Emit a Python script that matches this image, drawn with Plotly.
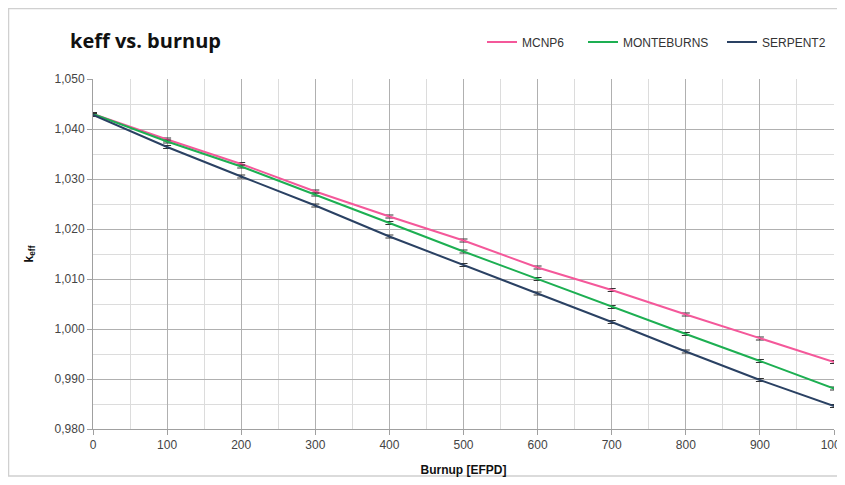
import plotly.graph_objects as go

burnup = [0, 100, 200, 300, 400, 500, 600, 700, 800, 900, 1000]
mcnp6 = [1.0430, 1.0379, 1.0330, 1.0275, 1.0225, 1.0177, 1.0123, 1.0078, 1.0029, 0.9981, 0.9934]
monteburns = [1.0430, 1.0375, 1.0325, 1.0269, 1.0212, 1.0155, 1.0100, 1.0044, 0.9990, 0.9936, 0.9881]
serpent2 = [1.0428, 1.0364, 1.0305, 1.0247, 1.0185, 1.0128, 1.0071, 1.0014, 0.9955, 0.9898, 0.9846]
err = [0.0003] * 11

series = [
    ("MCNP6", mcnp6, "#F4589A", "legend"),
    ("MONTEBURNS", monteburns, "#1DAF52", "legend2"),
    ("SERPENT2", serpent2, "#2A4163", "legend3"),
]

fig = go.Figure()
for name, vals, col, lg in series:
    fig.add_trace(go.Scatter(
        x=burnup, y=vals, name=name, mode="lines",
        line=dict(color=col, width=2),
        error_y=dict(type="data", array=err, visible=True, color="#333333", thickness=1, width=4),
        legend=lg, showlegend=True,
    ))

# page body has an 8px margin, so the figure is 16px smaller than the window
OFF = 8
W, H = 845 - 2 * OFF, 485 - 2 * OFF
L, T = 93 - OFF, 79 - OFF
R = W - (834 - OFF)
B = H - (429 - OFF)
pw, ph = W - L - R, H - T - B

def px(x):  # screen x -> paper
    return (x - OFF - L) / pw

def py(y):  # screen y -> paper
    return (H - B - (y - OFF)) / ph

legfont = dict(family="Liberation Sans, Arial", size=12, color="#333333")
leg_common = dict(orientation="h", xanchor="left", yanchor="middle", font=legfont,
                  bgcolor="rgba(0,0,0,0)", itemwidth=30)

fig.update_layout(
    width=W, height=H,
    margin=dict(l=L, r=R, t=T, b=B, autoexpand=False),
    paper_bgcolor="white", plot_bgcolor="white",
    showlegend=True,
    separators=", ",
    font=dict(family="Liberation Sans, Arial", size=12, color="#595959"),
    title=dict(text="<b>keff vs. burnup</b>", x=(70 - OFF) / W, xref="container", xanchor="left",
               y=1 - (41 - OFF) / H, yref="container", yanchor="middle",
               font=dict(size=20, color="#111111", family="Open Sans, Liberation Sans")),
    legend=dict(x=px(482), y=py(42), **leg_common),
    legend2=dict(x=px(583), y=py(42), **leg_common),
    legend3=dict(x=px(722), y=py(42), **leg_common),
    xaxis=dict(range=[0, 1000], dtick=100, showgrid=True, gridcolor="#B0B0B0", gridwidth=1,
               minor=dict(dtick=50, showgrid=True, gridcolor="#DCDCDC", gridwidth=1),
               showline=True, linecolor="#A0A0A0", ticks="outside", ticklen=5, tickcolor="#A0A0A0",
               zeroline=False, tickfont=dict(size=12, color="#444444"),
               ticklabeloverflow="allow", automargin=False,
               title=dict(text="<b>Burnup [EFPD]</b>", standoff=16,
                          font=dict(size=12, color="#111111"))),
    yaxis=dict(range=[0.980, 1.050], dtick=0.01, tickformat=".3f", showgrid=True,
               gridcolor="#B0B0B0", gridwidth=1,
               minor=dict(dtick=0.005, showgrid=True, gridcolor="#DCDCDC", gridwidth=1),
               showline=True, linecolor="#A0A0A0", ticks="outside", ticklen=5, tickcolor="#A0A0A0",
               zeroline=False, tickfont=dict(size=12, color="#444444"), automargin=False,
               title=dict(text="<b>k<sub>eff</sub></b>", standoff=18,
                          font=dict(size=12, color="#111111"))),
    shapes=[dict(type="rect", xref="paper", yref="paper",
                 x0=px(8.5), x1=px(900), y0=py(476), y1=py(8.5),
                 line=dict(color="#D0D0D0", width=1.5), layer="below")],
)

fig.write_html("out.html")
